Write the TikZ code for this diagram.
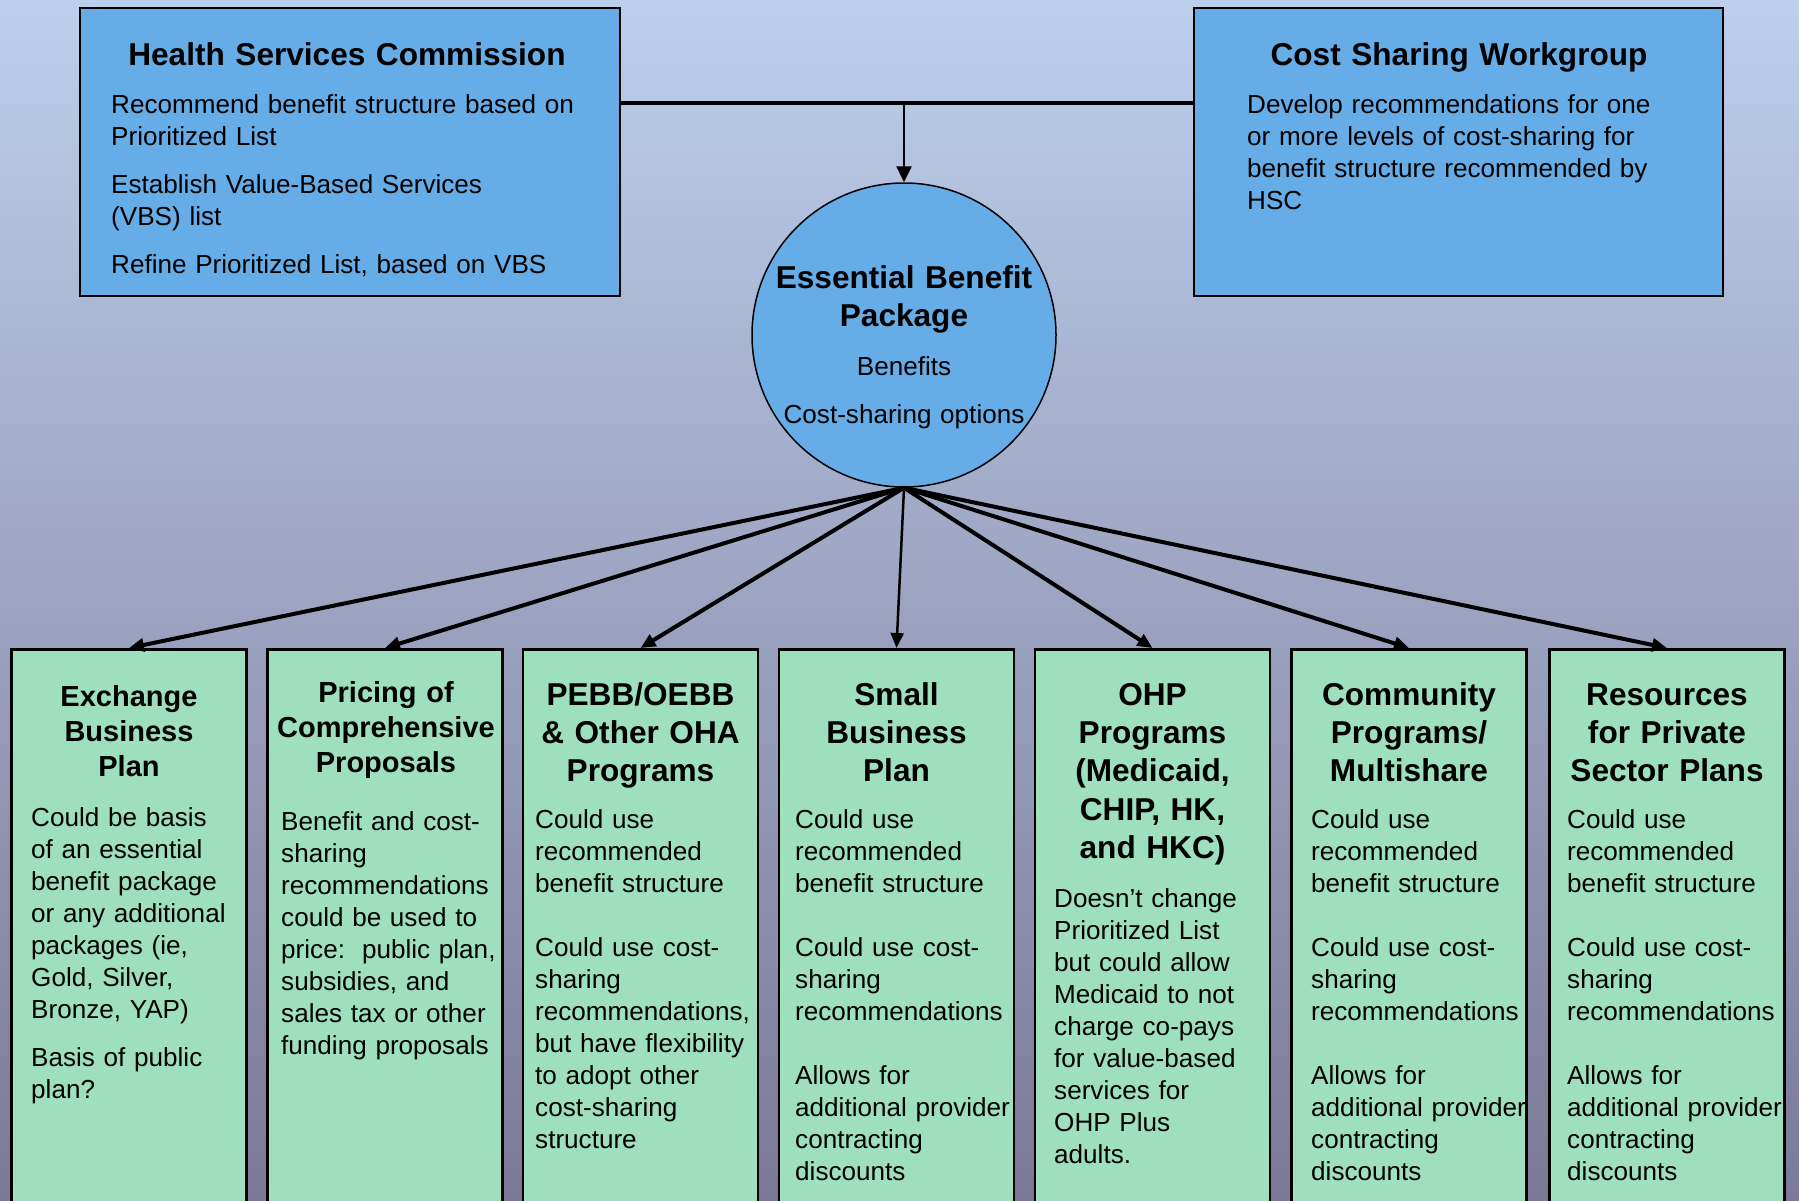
\documentclass[tikz,border=0pt]{standalone}
\usepackage{fontspec}
\setmainfont{Liberation Sans}
\usetikzlibrary{arrows.meta}

\definecolor{bgtop}{HTML}{BCCFEC}
\definecolor{bgmid}{HTML}{A2AAC6}
\definecolor{bgbot}{HTML}{7B7996}
\definecolor{panelblue}{HTML}{66ADE7}
\definecolor{colgreen}{HTML}{9EDFC0}

\newcommand{\bodysize}{\fontsize{26.1}{32}\selectfont}
\newcommand{\headsize}{\fontsize{31.6}{38.4}\selectfont\bfseries}
\newcommand{\narrowhead}{\fontsize{29}{35}\selectfont\bfseries}

\tikzset{
  panel/.style={draw, line width=2.5pt, fill=panelblue, minimum width=540pt, minimum height=288pt},
  colbox/.style={draw, line width=2.5pt, fill=colgreen, anchor=north, minimum width=235pt, minimum height=640pt},
  hub/.style={circle, draw, line width=1.5pt, fill=panelblue, minimum size=304pt},
  txt/.style={anchor=base west, inner sep=0pt, text width=480pt, align=left, font=\bodysize},
  head/.style={anchor=base, inner sep=0pt, text width=480pt, align=center, font=\headsize},
  feed/.style={line width=4pt, -{Triangle[length=15pt,width=13pt]}},
}

\begin{document}
\begin{tikzpicture}[x=1pt,y=-1pt]
\path[use as bounding box] (0,0) rectangle (1799,1200);
\shade[top color=bgtop, middle color=bgmid, bottom color=bgbot] (0,0) rectangle (1799,1200);

% top row
\node[panel] (hsc) at (350,152) {};
\node[panel, minimum width=529pt] (csw) at (1458.5,152) {};

\node[head] (hsctitle) at (347,65) {Health Services Commission};
\node[txt]  (hscbody)  at (111,113) {Recommend benefit structure based on\\Prioritized List\\[16pt]Establish Value-Based Services\\(VBS) list\\[16pt]Refine Prioritized List, based on VBS};

\node[head] (cswtitle) at (1459,65) {Cost Sharing Workgroup};
\node[txt]  (cswbody)  at (1247,113) {Develop recommendations for one\\or more levels of cost-sharing for\\benefit structure recommended by\\HSC};

% package in the middle
\node[hub] (ebp) at (904,335) {};
\node[head, font=\fontsize{31.6}{38}\selectfont\bfseries] (ebptitle) at (904,288) {Essential Benefit\\Package};
\node[head, font=\bodysize] (ebpbody) at (904,375) {Benefits\\[16pt]Cost-sharing options};

\coordinate (join) at (904,103);
\draw[line width=3.5pt] (hsc.east |- join) -- (csw.west |- join);
\draw[line width=2.5pt, -{Triangle[length=16pt,width=15pt]}] (join) -- (ebp.north);

% bottom row
\node[colbox] (exch)    at (129,648)    {};
\node[colbox] (pricing) at (385,648)    {};
\node[colbox] (pebb)    at (640.5,648)  {};
\node[colbox] (small)   at (896.5,648)  {};
\node[colbox] (ohp)     at (1152.5,648) {};
\node[colbox] (comm)    at (1409,648)   {};
\node[colbox] (priv)    at (1667,648)   {};

\draw[feed] (ebp.south) -- (exch.north);
\draw[feed] (ebp.south) -- (pricing.north);
\draw[feed] (ebp.south) -- (pebb.north);
\draw[line width=2.5pt, -{Triangle[length=15pt,width=13pt]}] (ebp.south) -- (small.north);
\draw[feed] (ebp.south) -- (ohp.north);
\draw[feed] (ebp.south) -- (comm.north);
\draw[feed] (ebp.south) -- (priv.north);

\node[head, font=\narrowhead] (exchtitle)    at (129,706) {Exchange\\Business\\Plan};
\node[head, font=\narrowhead] (pricingtitle) at (386,702) {Pricing of\\Comprehensive\\Proposals};
\node[head] (pebbtitle)  at (640.5,705)  {PEBB/OEBB\\\& Other OHA\\Programs};
\node[head] (smalltitle) at (896.5,705)  {Small\\Business\\Plan};
\node[head] (ohptitle)   at (1152.5,705) {OHP\\Programs\\(Medicaid,\\CHIP, HK,\\and HKC)};
\node[head] (commtitle)  at (1409,705)   {Community\\Programs/\\Multishare};
\node[head] (privtitle)  at (1667,705)   {Resources\\for Private\\Sector Plans};

\node[txt] (exchbody) at (31,826) {Could be basis\\of an essential\\benefit package\\or any additional\\packages (ie,\\Gold, Silver,\\Bronze, YAP)\\[16pt]Basis of public\\plan?};
\node[txt] (pricingbody) at (281,830) {Benefit and cost-\\sharing\\recommendations\\could be used to\\price:\hspace{4pt} public plan,\\subsidies, and\\sales tax or other\\funding proposals};
\node[txt] (pebbbody) at (535,828) {Could use\\recommended\\benefit structure\\[32pt]Could use cost-\\sharing\\recommendations,\\but have flexibility\\to adopt other\\cost-sharing\\structure};
\node[txt] (smallbody) at (795,828) {Could use\\recommended\\benefit structure\\[32pt]Could use cost-\\sharing\\recommendations\\[32pt]Allows for\\additional provider\\contracting\\discounts};
\node[txt] (ohpbody) at (1054,907) {Doesn’t change\\Prioritized List\\but could allow\\Medicaid to not\\charge co-pays\\for value-based\\services for\\OHP Plus\\adults.};
\node[txt] (commbody) at (1311,828) {Could use\\recommended\\benefit structure\\[32pt]Could use cost-\\sharing\\recommendations\\[32pt]Allows for\\additional provider\\contracting\\discounts};
\node[txt] (privbody) at (1567,828) {Could use\\recommended\\benefit structure\\[32pt]Could use cost-\\sharing\\recommendations\\[32pt]Allows for\\additional provider\\contracting\\discounts};
\end{tikzpicture}
\end{document}
